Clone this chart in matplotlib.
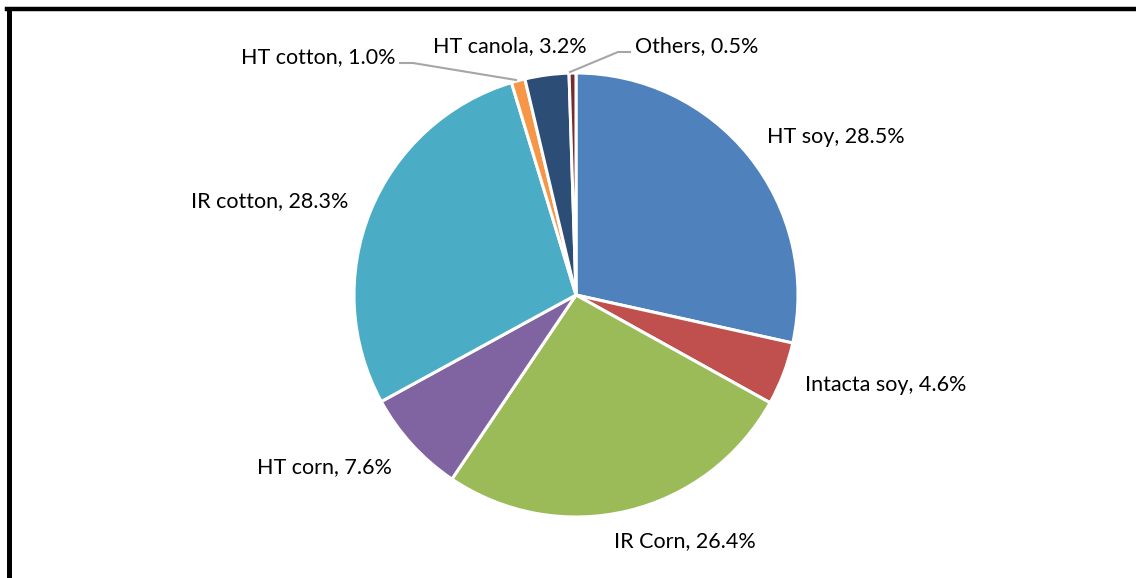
import matplotlib
matplotlib.use("Agg")
import matplotlib.pyplot as plt
from matplotlib.lines import Line2D

labels = ["HT soy", "Intacta soy", "IR Corn", "HT corn", "IR cotton", "HT cotton", "HT canola", "Others"]
values = [28.5, 4.6, 26.4, 7.6, 28.3, 1.0, 3.2, 0.5]
colors = ["#4F81BD", "#C0504D", "#9BBB59", "#8064A2", "#4BACC6", "#F79646", "#2C4D75", "#772C2A"]

W, H = 1136, 578
fig = plt.figure(figsize=(W / 100, H / 100), dpi=100)
fig.patch.set_facecolor("white")

cx, cy, R = 576, 295, 222
ax = fig.add_axes([(cx - R) / W, (H - cy - R) / H, 2 * R / W, 2 * R / H])
wedges, _ = ax.pie(values, colors=colors, startangle=90, counterclock=False,
                   wedgeprops=dict(edgecolor="white", linewidth=2.2), radius=1)
ax.set_xlim(-1, 1)
ax.set_ylim(-1, 1)
ax.set_aspect("equal")
ax.axis("off")

def d(px, py):
    return (px - cx) / R, (cy - py) / R

font = dict(family=["Lato", "DejaVu Sans"], fontsize=15.5, color="black")
label_pos = [(836, 137), (886, 385), (685, 541), (324, 467), (270, 201), (318, 57), (510, 46), (697, 46)]
for lab, v, (px, py) in zip(labels, values, label_pos):
    x, y = d(px, py)
    ax.text(x, y, f"{lab}, {v:.1f}%", ha="center", va="center", clip_on=False, **font)

# leader lines
lc = "#A6A6A6"
for pts in [[(400, 63), (413, 63), (516, 80)], [(570, 72), (618, 52), (630, 52)]]:
    xs, ys = zip(*[d(*p) for p in pts])
    ax.plot(xs, ys, color=lc, lw=1.5, clip_on=False)

# frame lines (left and top)
fig.add_artist(Line2D([8.5 / W, 8.5 / W], [0, (H - 8.5) / H], transform=fig.transFigure, color="black", lw=3.6))
fig.add_artist(Line2D([6.7 / W, 1], [(H - 8.5) / H, (H - 8.5) / H], transform=fig.transFigure, color="black", lw=3.2))

fig.savefig("out.png", dpi=100)
